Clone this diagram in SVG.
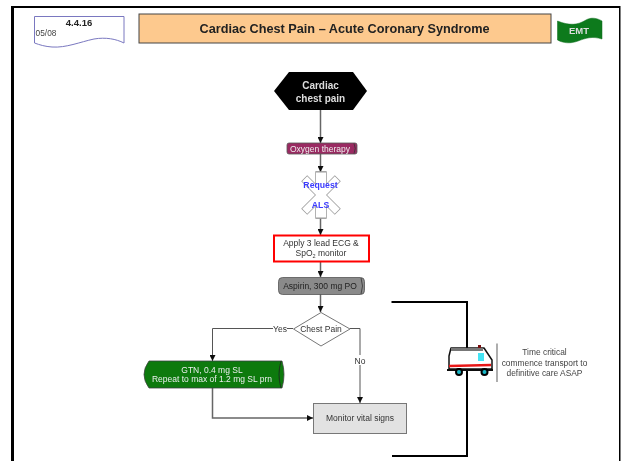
<svg xmlns="http://www.w3.org/2000/svg" width="625" height="461" viewBox="0 0 625 461">
<style>
text{font-family:"Liberation Sans",Arial,sans-serif;text-anchor:middle}
.c{fill:none;stroke:#555;stroke-width:1}
.t{fill:none;stroke:#666;stroke-width:1.500}
.k{fill:none;stroke:#000;stroke-width:2}
.lbl{font-size:8.500px;fill:#333}
.w{font-size:8.500px;fill:#eee}
.n{font-size:8.400px;fill:#444}
.s{font-size:8.700px;font-weight:bold;fill:#3a3aff}
.h{font-size:10px;font-weight:bold;fill:#ddd}
</style>
<defs>
<marker id="a" markerUnits="userSpaceOnUse" markerWidth="7" markerHeight="6" refX="6" refY="3" orient="auto"><path d="M0 0L6 3L0 6Z" fill="#111"/></marker>
<filter id="soft" x="0" y="0" width="1" height="1"><feGaussianBlur stdDeviation="0.450"/></filter>
</defs>
<rect width="625" height="461" fill="#fff"/>
<g filter="url(#soft)">
<rect width="625" height="461" fill="#fff"/>
<rect x="11" y="6" width="3" height="455" fill="#000"/>
<rect x="11" y="6" width="609" height="2" fill="#000"/>
<rect x="619" y="6" width="1.500" height="455" fill="#000"/>
<g id="doc-ref">
<path d="M34.500 16.500H124V43C116 39 106 37 94 39C80 42 66 48 52 47C45 46.500 40 45 34.500 43Z" fill="#fff" stroke="#7a78c0" stroke-width="1"/>
<text x="79" y="26" font-size="9.500" font-weight="bold" fill="#222">4.4.16</text>
<text x="46" y="36" font-size="8.300" fill="#444">05/08</text>
</g>
<g id="title">
<rect x="139" y="14" width="412" height="29" fill="#fdc98e" stroke="#444" stroke-width="1"/>
<text x="344.500" y="32.500" font-size="12.700" font-weight="bold" fill="#222">Cardiac Chest Pain – Acute Coronary Syndrome</text>
</g>
<g id="emt">
<path d="M557.500 21C570 26 578 25 586 20C591 17 597 18 602 21V39C592 36 586 38 578 41C570 44 563 43 557.500 40Z" fill="#0a7a1e" stroke="#0a6a18" stroke-width="0.500"/>
<text x="579" y="33.500" font-size="9.500" font-weight="bold" fill="#ddd">EMT</text>
</g>
<g id="connectors">
<path class="t" d="M320.500 110V143" marker-end="url(#a)"/>
<path class="t" d="M320.500 154V172" marker-end="url(#a)"/>
<path class="t" d="M320.500 218V235" marker-end="url(#a)"/>
<path class="t" d="M320.500 262V277" marker-end="url(#a)"/>
<path class="t" d="M320.500 294V312" marker-end="url(#a)"/>
<path class="c" d="M293 328.500H212.500V361" marker-end="url(#a)"/>
<path class="c" d="M350 328.500H360V403" marker-end="url(#a)"/>
<path class="t" d="M212.500 388V418H313" marker-end="url(#a)"/>
<path class="k" d="M391.500 302H467V456H392"/>
</g>
<g id="start">
<path d="M274 91L289 72H353L367 91L353 110H289Z" fill="#000"/>
<text x="320.500" y="89" class="h">Cardiac</text>
<text x="320.500" y="101.500" class="h">chest pain</text>
</g>
<g id="oxygen">
<rect x="287" y="143" width="70" height="11" rx="2" fill="#9a2c62" stroke="#555" stroke-width="0.800"/>
<path d="M354 143.500Q356.500 148.500 354 153.500" fill="none" stroke="#333" stroke-width="0.800"/>
<text x="320" y="151.500" class="w">Oxygen therapy</text>
</g>
<g id="als">
<g fill="#fff" stroke="#999" stroke-width="1.500">
<rect x="316" y="172" width="10" height="46"/>
<rect x="317.500" y="172" width="7" height="46" transform="rotate(45 321 195)"/>
<rect x="317.500" y="172" width="7" height="46" transform="rotate(-45 321 195)"/>
</g>
<g fill="#fff">
<rect x="316" y="172" width="10" height="46"/>
<rect x="317.500" y="172" width="7" height="46" transform="rotate(45 321 195)"/>
<rect x="317.500" y="172" width="7" height="46" transform="rotate(-45 321 195)"/>
</g>
<path d="M316 172H326M316 218H326" stroke="#999" fill="none"/>
<text x="320.500" y="188" class="s">Request</text>
<text x="320.500" y="208" class="s">ALS</text>
</g>
<g id="ecg">
<rect x="274" y="235.500" width="95" height="26" fill="#fff" stroke="#f00" stroke-width="2"/>
<text x="321" y="245.500" class="lbl">Apply 3 lead ECG &amp;</text>
<text x="321" y="256" class="lbl">SpO<tspan font-size="5.500" dy="1.500">2</tspan><tspan dy="-1.500"> monitor</tspan></text>
</g>
<g id="aspirin">
<rect x="278.500" y="277.500" width="86" height="17" rx="4" fill="#8a8a8a" stroke="#555" stroke-width="0.800"/>
<path d="M361 278Q364 286 361 294" fill="none" stroke="#333" stroke-width="0.800"/>
<text x="320" y="288.500" font-size="8.500" fill="#222">Aspirin, 300 mg PO</text>
</g>
<g id="decision">
<path d="M293.500 329L321 312.500L350 329L321 346Z" fill="#fff" stroke="#777" stroke-width="1"/>
<text x="321" y="331.500" class="lbl">Chest Pain</text>
</g>
<g id="gtn">
<path d="M149 361H282Q286 374.500 282 388H149Q139 374.500 149 361Z" fill="#087a0c" stroke="#444" stroke-width="0.800"/>
<path d="M281 361Q277 374.500 281 388" fill="none" stroke="#222" stroke-width="0.800"/>
<text x="212" y="372.500" class="w">GTN, 0.4 mg SL</text>
<text x="212" y="382" class="w">Repeat to max of 1.2 mg SL prn</text>
</g>
<g id="monitor">
<rect x="313.500" y="403.500" width="93" height="30" fill="#e2e2e2" stroke="#777" stroke-width="1"/>
<text x="360" y="420.500" class="lbl">Monitor vital signs</text>
</g>
<g id="labels">
<rect x="273" y="323" width="14" height="10" fill="#fff"/>
<text x="280" y="331.500" class="lbl">Yes</text>
<rect x="353" y="355" width="14" height="10" fill="#fff"/>
<text x="360" y="363.500" class="lbl">No</text>
</g>
<g id="ambulance">
<path d="M451 348H484L492 360V369H449V356Z" fill="#fff" stroke="#111" stroke-width="1.500" stroke-linejoin="round"/>
<rect x="451" y="348" width="32" height="3" fill="#777"/>
<rect x="478" y="353" width="6" height="8" fill="#44e4f4"/>
<path d="M449 366L491 365" stroke="#e81818" stroke-width="2.500"/>
<rect x="478" y="345" width="3" height="3" fill="#7a1010"/>
<path d="M447 370H493" stroke="#111" stroke-width="2"/>
<circle cx="459" cy="372" r="3" fill="#18b8c8" stroke="#000" stroke-width="2"/>
<circle cx="484.500" cy="372" r="3" fill="#18b8c8" stroke="#000" stroke-width="2"/>
</g>
<g id="transport-note">
<path d="M497 343.500V382" stroke="#777" stroke-width="1.200"/>
<text x="544.500" y="355" class="n">Time critical</text>
<text x="544.500" y="365.500" class="n">commence transport to</text>
<text x="544.500" y="375.500" class="n">definitive care ASAP</text>
</g>
</g>
</svg>
